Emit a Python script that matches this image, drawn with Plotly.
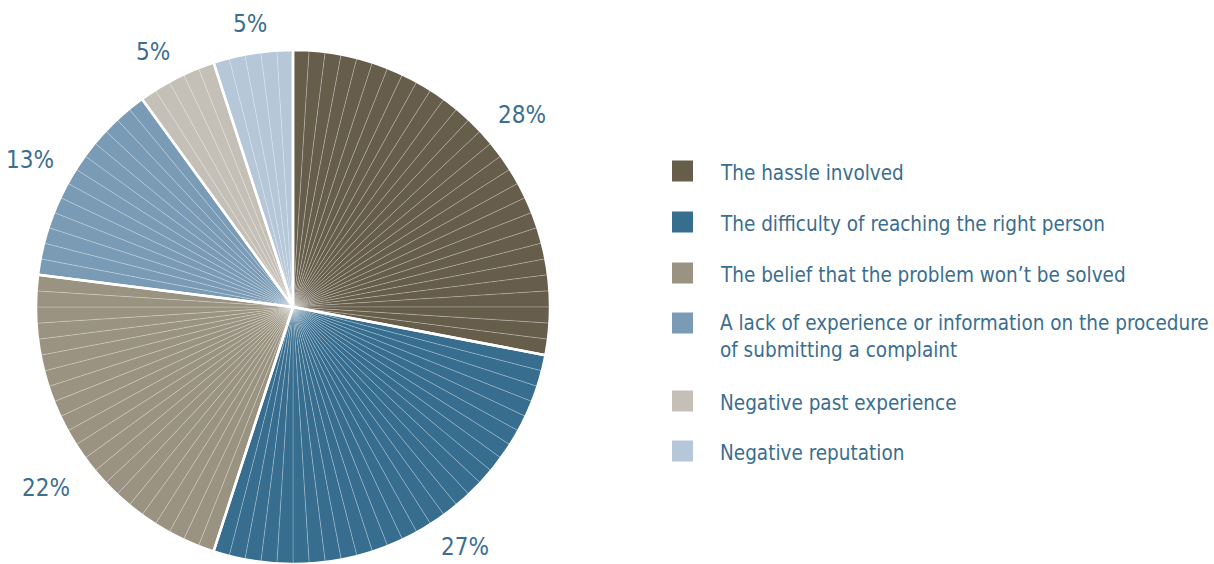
import numpy as np
import plotly.graph_objects as go

# ---- data ----
categories = [
    "The hassle involved",
    "The difficulty of reaching the right person",
    "The belief that the problem won’t be solved",
    "A lack of experience or information on the procedure<br>of submitting a complaint",
    "Negative past experience",
    "Negative reputation",
]
values = [28, 27, 22, 13, 5, 5]
colors = ["#665d4b", "#376e90", "#9b9381", "#7a9bb5", "#c5c0b7", "#b5c7d8"]
pct_labels = [f"{v}%" for v in values]

TEXT = "#3b6e8f"
FONT = "DejaVu Sans Condensed, DejaVu Sans, sans-serif"

W, H = 1214, 564
MT, MB = 50, 0
ph = H - MT - MB
R = ph / 2
CX = 293
CY = MT + R

# each category shown as 1% segments
unit_cat = np.repeat(np.arange(len(values)), values)
unit_vals = [1] * len(unit_cat)
unit_colors = [colors[i] for i in unit_cat]
unit_labels = [f"u{i}" for i in range(len(unit_cat))]

dom_x = [0, 2 * CX / W]

fig = go.Figure()
fig.add_trace(go.Pie(
    values=unit_vals, labels=unit_labels, sort=False, direction="clockwise",
    rotation=0, textinfo="none", hoverinfo="skip", showlegend=False,
    marker=dict(colors=unit_colors, line=dict(color="rgba(255,255,255,0.22)", width=1)),
    domain=dict(x=dom_x, y=[0, 1]),
))
fig.add_trace(go.Pie(
    values=values, labels=categories, sort=False, direction="clockwise",
    rotation=0, textinfo="none", showlegend=False,
    marker=dict(colors=["rgba(0,0,0,0)"] * len(values), line=dict(color="white", width=2.5)),
    domain=dict(x=dom_x, y=[0, 1]),
))

annotations = []
# percentage labels near mid-angle outside the pie (pixel nudges are styling)
label_nudge = [(0, -2), (21, -16), (4, 22), (-7, 4), (-5, 10), (4, 11)]
cum = np.cumsum([0] + values)
total = cum[-1]
for i, lab in enumerate(pct_labels):
    mid = (cum[i] + cum[i + 1]) / 2 / total * 2 * np.pi
    rr = R * 1.157
    xpx = CX + rr * np.sin(mid) + label_nudge[i][0]
    ypx = CY - rr * np.cos(mid) + label_nudge[i][1]
    annotations.append(dict(
        x=xpx / W, y=1 - (ypx - MT) / ph, xref="paper", yref="paper",
        text=lab, showarrow=False, xanchor="center", yanchor="middle",
        font=dict(family=FONT, size=24, color=TEXT),
    ))

# manual legend
sq_y = [171, 222, 273, 323, 401, 451]
fs = 20.5
for i, (lab, col) in enumerate(zip(categories, colors)):
    yc = sq_y[i]
    nlines = lab.count("<br>") + 1
    ytext = yc + 1.5 + (nlines - 1) * fs * 1.3 / 2 - (nlines - 1) * 1.5
    annotations.append(dict(
        x=718 / W, y=1 - (ytext - MT) / ph, xref="paper", yref="paper",
        text=lab, showarrow=False, xanchor="left", yanchor="middle", align="left",
        font=dict(family=FONT, size=fs, color=TEXT),
    ))
shapes = [
    dict(type="rect", xref="paper", yref="paper",
         x0=672 / W, x1=693 / W,
         y0=1 - (yc + 10.5 - MT) / ph, y1=1 - (yc - 10.5 - MT) / ph,
         fillcolor=col, line=dict(width=0))
    for yc, col in zip(sq_y, colors)
]

fig.update_layout(
    width=W, height=H,
    margin=dict(l=0, r=0, t=MT, b=MB),
    paper_bgcolor="white", plot_bgcolor="white",
    annotations=annotations, shapes=shapes,
    showlegend=False,
)
fig.write_html("out.html")
